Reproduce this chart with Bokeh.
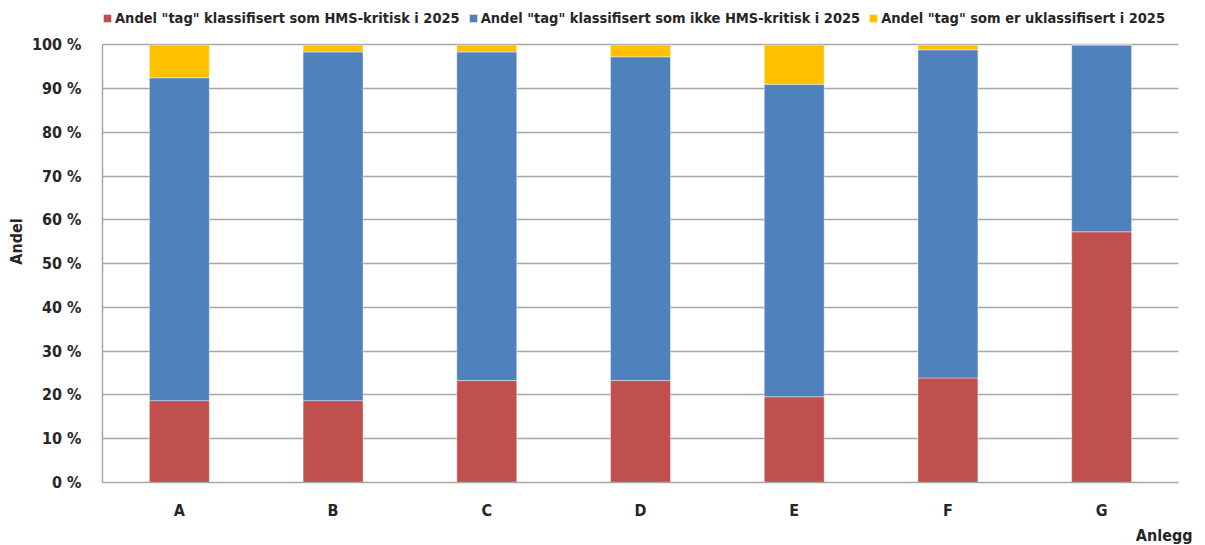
from bokeh.plotting import figure
from bokeh.models import Legend, LegendItem, FixedTicker, ColumnDataSource, Title
from bokeh.embed import file_html
from bokeh.resources import INLINE

anlegg = ["A", "B", "C", "D", "E", "F", "G"]
hms_kritisk = [18.7, 18.7, 23.3, 23.3, 19.6, 23.9, 57.3]
ikke_hms = [73.8, 79.7, 75.1, 74.0, 71.4, 75.0, 42.7]
uklassifisert = [7.5, 1.6, 1.6, 2.7, 9.0, 1.1, 0.0]
series_names = [
    'Andel "tag" klassifisert som HMS-kritisk i 2025',
    'Andel "tag" klassifisert som ikke HMS-kritisk i 2025',
    'Andel "tag" som er uklassifisert i 2025',
]
y_ticks = [0, 10, 20, 30, 40, 50, 60, 70, 80, 90, 100]

FONT = "'DejaVu Sans Condensed', 'Liberation Sans Narrow', 'Noto Sans'"
colors = ["#C0504D", "#4F81BD", "#FFC000"]
keys = ["hms", "ikke", "ukl"]

src = ColumnDataSource(dict(x=anlegg, hms=hms_kritisk, ikke=ikke_hms, ukl=uklassifisert))

# extra headroom above 100 % holds the legend inside the frame
p = figure(x_range=anlegg, y_range=(0, 110.16), width=1205, height=545,
           output_backend="svg", toolbar_location=None,
           min_border_left=102, min_border_right=27, min_border_top=0, min_border_bottom=57)

rs = p.vbar_stack(keys, x="x", width=0.39, color=colors, source=src,
                  line_color="white", line_alpha=0.4, line_width=1)

p.outline_line_color = None
p.background_fill_color = "white"
p.border_fill_color = "white"

p.yaxis.bounds = (0, 100)
p.yaxis.ticker = FixedTicker(ticks=y_ticks)
p.yaxis.major_label_overrides = {t: f"{t} %" for t in y_ticks}
p.yaxis.major_tick_line_color = None
p.yaxis.minor_tick_line_color = None
p.yaxis.axis_line_color = "#a6a6a6"
p.yaxis.axis_line_width = 1.5
p.yaxis.major_label_text_font = FONT
p.yaxis.major_label_text_font_style = "bold"
p.yaxis.major_label_text_font_size = "16px"
p.yaxis.major_label_text_color = "#262626"
p.yaxis.major_label_standoff = 15
p.yaxis.axis_label = "Andel"
p.yaxis.axis_label_text_font = FONT
p.yaxis.axis_label_text_font_style = "bold"
p.yaxis.axis_label_text_font_size = "16px"
p.yaxis.axis_label_text_color = "#262626"
p.yaxis.axis_label_standoff = 3

p.xaxis.major_tick_line_color = None
p.xaxis.minor_tick_line_color = None
p.xaxis.axis_line_color = "#a6a6a6"
p.xaxis.axis_line_width = 1.5
p.xaxis.major_label_text_font = FONT
p.xaxis.major_label_text_font_style = "bold"
p.xaxis.major_label_text_font_size = "16px"
p.xaxis.major_label_text_color = "#262626"
p.xaxis.major_label_standoff = 12

p.add_layout(Title(text="Anlegg", align="right", offset=-14, standoff=2,
                   text_font=FONT, text_font_style="bold", text_font_size="16px",
                   text_color="#262626"), "below")

p.xgrid.grid_line_color = None
p.ygrid.grid_line_color = "#a6a6a6"
p.ygrid.grid_line_width = 1.5

legend = Legend(items=[LegendItem(label=n, renderers=[r]) for n, r in zip(series_names, rs)],
                orientation="horizontal", location=(0, 456),
                label_text_font=FONT, label_text_font_style="bold",
                label_text_font_size="14.5px", label_text_color="#262626",
                glyph_width=10, glyph_height=10, label_standoff=3, spacing=8,
                padding=0, margin=0, border_line_color=None, background_fill_alpha=0)
p.add_layout(legend, "center")

open("out.html", "w").write(file_html(p, INLINE))
